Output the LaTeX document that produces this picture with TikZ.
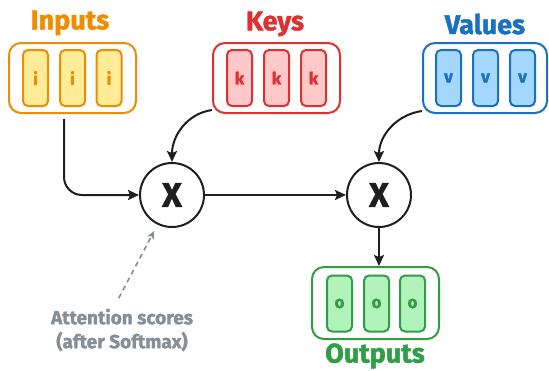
\documentclass[tikz,border=0pt]{standalone}
\usepackage{fontspec}
\setsansfont{Fira Sans}[BoldFeatures={FakeBold=1.5}]
\usepackage{tikz}
\usetikzlibrary{arrows.meta,calc,positioning}
\definecolor{excorange}{HTML}{F08C00}
\definecolor{excorangenen}{HTML}{FFEC99}
\definecolor{excdo}{HTML}{E03131}
\definecolor{excdonen}{HTML}{FFC9C9}
\definecolor{excxanh}{HTML}{1971C2}
\definecolor{excxanhnen}{HTML}{A5D8FF}
\definecolor{excla}{HTML}{2F9E44}
\definecolor{exclanen}{HTML}{B2F2BB}
\definecolor{excxam}{HTML}{868E96}
\definecolor{excden}{HTML}{1E1E1E}

\begin{document}
\begin{tikzpicture}[x=1pt,y=-1pt,font=\sffamily\bfseries]
		\tikzstyle{khung} = [draw,line width=2pt,rounded corners=12pt,minimum width=127pt,minimum height=70pt,fill=white]
		\tikzstyle{o} = [draw,line width=2pt,rounded corners=5pt,minimum width=25pt,minimum height=56pt,inner sep=0pt,font=\fontsize{17}{17}\sffamily\bfseries]
		\tikzstyle{tieude} = [font=\fontsize{27}{27}\sffamily\bfseries]
		\tikzstyle{nhan} = [draw=excden,line width=2pt,circle,minimum size=64pt,inner sep=0pt,font=\fontsize{34}{34}\sffamily\bfseries,text=excden]
		\tikzstyle{muiten} = [-{Stealth[length=11pt,width=10pt,inset=2pt]},line width=2pt,excden]
		\useasboundingbox (0,0) rectangle (549,370);
		% inputs
		\node[khung,draw=excorange] (inputs) at (72.5,78) {};
		\foreach \i/\x in {1/35.5,2/72.5,3/109}
			\node[o,draw=excorange,fill=excorangenen,text=excorange] (i\i) at (\x,78) {i};
		\node[tieude,text=excorange] (tinputs) at (70,23) {Inputs};
		% keys
		\node[khung,draw=excdo] (keys) at (276.5,78) {};
		\foreach \i/\x in {1/239.5,2/276.5,3/313.5}
			\node[o,draw=excdo,fill=excdonen,text=excdo] (k\i) at (\x,78) {k};
		\node[tieude,text=excdo] (tkeys) at (275,24) {Keys};
		% values
		\node[khung,draw=excxanh,minimum width=124pt] (values) at (485,78) {};
		\foreach \i/\x in {1/448.5,2/485.5,3/522.5}
			\node[o,draw=excxanh,fill=excxanhnen,text=excxanh] (v\i) at (\x,78) {v};
		\node[tieude,text=excxanh] (tvalues) at (485,24) {Values};
		% outputs
		\node[khung,draw=excla,minimum height=72pt] (outputs) at (375.5,303) {};
		\foreach \i/\x in {1/339.5,2/376.5,3/412.5}
			\node[o,draw=excla,fill=exclanen,text=excla] (o\i) at (\x,303.5) {o};
		\node[tieude,text=excla] (toutputs) at (375,356) {Outputs};
		% products
		\node[nhan] (c1) at (172,195) {X};
		\node[nhan] (c2) at (379,195) {X};
		\node[text=excxam,align=center,font=\fontsize{19}{24}\sffamily\bfseries] (scores) at (122,330) {Attention scores\\(after Softmax)};
		\draw[muiten,rounded corners=18pt] ([xshift=-8.5pt,yshift=-5pt]inputs.south) |- (c1.west);
		\draw[muiten] ([yshift=4pt]keys.south west) to[out=188,in=90] (c1.north);
		\draw[muiten] ([yshift=3pt]values.south west) to[out=188,in=90] (c2.north);
		\draw[muiten] (c1.east) -- (c2.west);
		\draw[muiten] (c2.south) -- (c2.south |- outputs.north);
		\draw[-{Stealth[length=8pt,width=7pt,inset=2pt]},line width=1.6pt,excxam,dashed,dash pattern=on 5pt off 4pt,shorten >=7pt,shorten <=8pt] ([xshift=-7pt]scores.north) -- (c1.244);
	\end{tikzpicture}
\end{document}
